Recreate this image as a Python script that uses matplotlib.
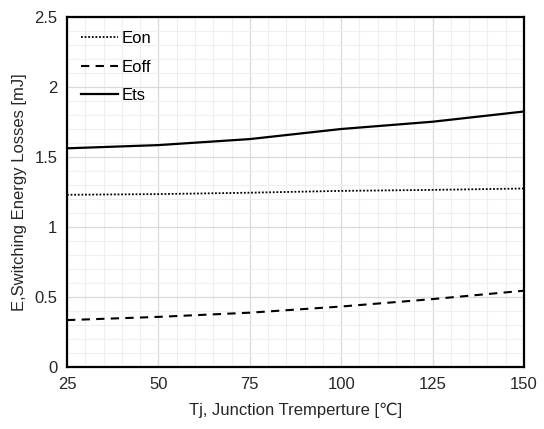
import matplotlib.pyplot as plt
from matplotlib.ticker import MultipleLocator

plt.rcParams['font.family'] = ['Liberation Sans', 'DejaVu Sans']

tj = [25, 50, 75, 100, 125, 150]
eon = [1.23, 1.235, 1.245, 1.258, 1.265, 1.275]
eoff = [0.335, 0.358, 0.388, 0.432, 0.485, 0.545]
ets = [1.562, 1.585, 1.628, 1.7, 1.752, 1.825]

fig = plt.figure(figsize=(5.44, 4.29), dpi=100)
ax = fig.add_axes([67/544, 1 - 367/429, 457/544, 350/429])

ax.plot(tj, eon, color='k', linestyle=(0, (1, 1)), linewidth=1.3, label='Eon')
ax.plot(tj, eoff, color='k', linestyle=(0, (4, 3)), linewidth=1.5, label='Eoff')
ax.plot(tj, ets, color='k', linestyle='-', linewidth=1.6, label='Ets')

ax.set_xlim(25, 150)
ax.set_ylim(0, 2.5)
ax.xaxis.set_major_locator(MultipleLocator(25))
ax.xaxis.set_minor_locator(MultipleLocator(5))
ax.yaxis.set_minor_locator(MultipleLocator(0.1))
ax.set_yticks([0, 0.5, 1, 1.5, 2, 2.5], ['0', '0.5', '1', '1.5', '2', '2.5'])
ax.grid(True, which='major', color='#d9d9d9', linewidth=0.9)
ax.grid(True, which='minor', color='#efefef', linewidth=0.8)
ax.set_axisbelow(True)
ax.tick_params(which='both', length=0, labelsize=12, colors='#262626', pad=7)
for s in ax.spines.values():
    s.set_linewidth(1.6)
    s.set_color('k')

ax.set_xlabel('Tj, Junction Tremperture [\u2103]', fontsize=12, color='#262626', labelpad=8)
ax.set_ylabel('E,Switching Energy Losses [mJ]', fontsize=12, color='#262626', labelpad=5)

ax.legend(loc='upper left', frameon=False, fontsize=12, handlelength=2.2,
          handletextpad=0.2, labelspacing=0.8, borderaxespad=0.45)

fig.savefig('out.png', dpi=100)
